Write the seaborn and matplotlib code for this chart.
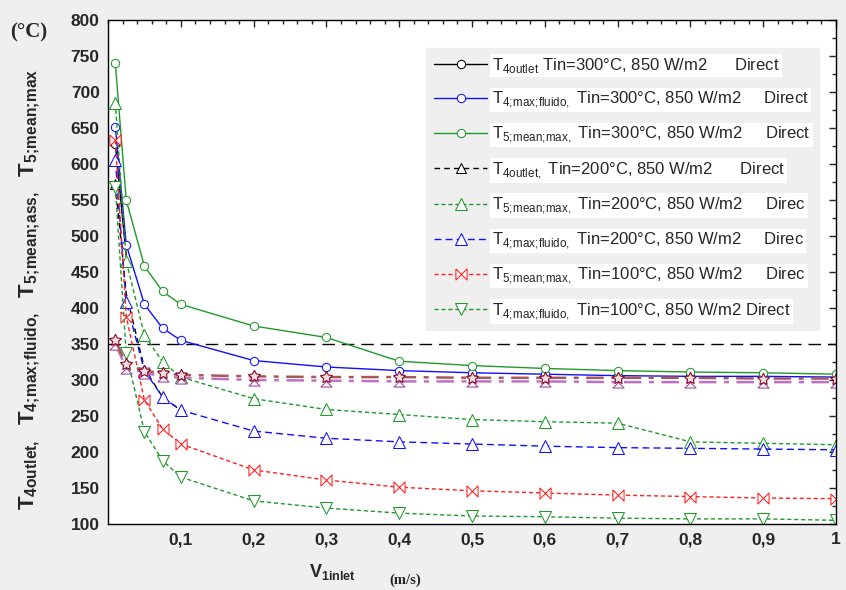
"""Outlet / fluid / surface temperatures versus inlet velocity."""

import matplotlib

matplotlib.use("Agg")

import matplotlib.pyplot as plt  # noqa: E402
import seaborn as sns  # noqa: E402

# inlet velocity (m/s)
V_INLET = [0.01, 0.025, 0.05, 0.075, 0.1, 0.2, 0.3, 0.4, 0.5, 0.6, 0.7, 0.8, 0.9, 1.0]

# Tin = 300 C
T5_MEAN_MAX_300 = [740, 550, 458, 423, 405, 375, 359, 326, 320, 316, 313, 311, 310, 308]
T4_MAX_FLUIDO_300 = [652, 488, 405, 372, 355, 327, 318, 313, 310, 308, 306, 305, 305, 304]
T4_OUTLET_300_V = [0.01, 0.025]
T4_OUTLET_300 = [628, 472]

# Tin = 200 C
T5_MEAN_MAX_200 = [685, 465, 362, 325, 304, 274, 259, 252, 245, 242, 240, 214, 212, 210]
T4_MAX_FLUIDO_200 = [606, 408, 313, 276, 258, 229, 219, 214, 211, 208, 206, 205, 204, 203]
T4_OUTLET_200_V = [0.01, 0.025, 0.05, 0.075, 0.1]
T4_OUTLET_200 = [572, 420, 316, 276, 258]

# Tin = 100 C
T5_MEAN_MAX_100 = [633, 388, 272, 232, 211, 175, 161, 151, 146, 143, 140, 138, 136, 135]
T4_MAX_FLUIDO_100 = [568, 337, 228, 188, 165, 132, 122, 115, 111, 110, 108, 107, 107, 105]

# unlabelled dash-dot series
SERIES_STAR = [355, 322, 313, 309, 307, 305, 304, 304, 303, 303, 303, 303, 302, 302]
SERIES_HOURGLASS = [350, 317, 310, 305, 303, 300, 299, 298, 298, 298, 297, 297, 297, 297]

REF_TEMP = 350

X_TICKS = [0.1, 0.2, 0.3, 0.4, 0.5, 0.6, 0.7, 0.8, 0.9, 1.0]
X_TICK_LABELS = ["0,1", "0,2", "0,3", "0,4", "0,5", "0,6", "0,7", "0,8", "0,9", "1"]
Y_TICKS = list(range(100, 801, 50))

LEGEND_LABELS = [
    r"$\mathrm{T}_{\mathrm{4outlet}}$ Tin=300°C, 850 W/m2      Direct",
    r"$\mathrm{T}_{\mathrm{4;\!max;\!fluido,}}$ Tin=300°C, 850 W/m2     Direct",
    r"$\mathrm{T}_{\mathrm{5;\!mean;\!max,}}$ Tin=300°C, 850 W/m2     Direct",
    r"$\mathrm{T}_{\mathrm{4outlet,}}$ Tin=200°C, 850 W/m2      Direct",
    r"$\mathrm{T}_{\mathrm{5;\!mean;\!max,}}$ Tin=200°C, 850 W/m2     Direc",
    r"$\mathrm{T}_{\mathrm{4;\!max;\!fluido,}}$ Tin=200°C, 850 W/m2     Direc",
    r"$\mathrm{T}_{\mathrm{5;\!mean;\!max,}}$ Tin=100°C, 850 W/m2     Direc",
    r"$\mathrm{T}_{\mathrm{4;\!max;\!fluido,}}$ Tin=100°C, 850 W/m2 Direct",
]

sns.set_theme(style="white")
plt.rcParams["font.family"] = ["Liberation Sans"]
plt.rcParams["mathtext.fontset"] = "custom"
plt.rcParams["mathtext.rm"] = "Liberation Sans"
plt.rcParams["mathtext.bf"] = "Liberation Sans:bold"

BOWTIE = [(-1, 1), (-1, -1), (1, 1), (1, -1), (-1, 1)]
HOURGLASS = [(-1, 1), (1, 1), (-1, -1), (1, -1), (-1, 1)]

GREEN = "#1f9a2a"
BLUE = "#1010ff"
RED = "#ff2020"
DASHED = (0, (3, 2))
DASH_DOT = (0, (7, 3, 2, 3))


def _line(ax, x, y, color, marker, size, mec=None, mfc="white", lw=1.0, **kw):
    sns.lineplot(x=x, y=y, ax=ax, sort=False, estimator=None, color=color,
                 marker=marker, markersize=size, markeredgecolor=mec or color,
                 markerfacecolor=mfc, linewidth=lw, **kw)
    return ax.lines[-1]


fig = plt.figure(figsize=(8.46, 5.90), dpi=100, facecolor="#efefef")
ax = fig.add_axes([0.1277, 0.112, 0.8605, 0.854])
ax.set_facecolor("white")

ax.axhline(REF_TEMP, color="black", linestyle=(0, (9, 5)), linewidth=1.0, zorder=1)

# black outlet curves sit underneath the coloured ones
h_out300 = _line(ax, T4_OUTLET_300_V, T4_OUTLET_300, "black", "o", 6, markevery=[0])
h_out200 = _line(ax, T4_OUTLET_200_V, T4_OUTLET_200, "black", "^", 7,
                 linestyle=(0, (4, 3)), markevery=[0])

h_fl300 = _line(ax, V_INLET, T4_MAX_FLUIDO_300, BLUE, "o", 6)
h_mm300 = _line(ax, V_INLET, T5_MEAN_MAX_300, GREEN, "o", 6)
h_mm200 = _line(ax, V_INLET, T5_MEAN_MAX_200, GREEN, "^", 8, linestyle=DASHED)
h_fl200 = _line(ax, V_INLET, T4_MAX_FLUIDO_200, BLUE, "^", 8, linestyle=(0, (5, 3)))
h_mm100 = _line(ax, V_INLET, T5_MEAN_MAX_100, RED, BOWTIE, 8, linestyle=DASHED)
h_fl100 = _line(ax, V_INLET, T4_MAX_FLUIDO_100, GREEN, "v", 8, linestyle=DASHED)

_line(ax, V_INLET, SERIES_HOURGLASS, "#c070c0", HOURGLASS, 8, mec="#a040a0", lw=1.8,
      linestyle=DASH_DOT)
_line(ax, V_INLET, SERIES_STAR, "#a85858", (5, 1, 0), 9, mec="#800020", mfc="#f4dcdc",
      lw=1.8, linestyle=DASH_DOT)

ax.set_xlim(0, 1)
ax.set_ylim(100, 800)
ax.set_xticks(X_TICKS)
ax.set_xticklabels(X_TICK_LABELS)
ax.set_yticks(Y_TICKS)
ax.set_xticks([i * 0.02 for i in range(51)], minor=True)
ax.set_yticks(list(range(100, 801, 25)), minor=True)
ax.tick_params(axis="both", which="both", direction="in", top=True, right=True,
               labelsize=12.5, pad=6)
ax.tick_params(which="major", length=5, width=1)
ax.tick_params(which="minor", length=3, width=1)
for lab in ax.get_xticklabels() + ax.get_yticklabels():
    lab.set_fontweight("bold")
for spine in ax.spines.values():
    spine.set_color("black")
    spine.set_linewidth(1.0)
ax.grid(False)
ax.set_xlabel("")
ax.set_ylabel("")

handles = [h_out300, h_fl300, h_mm300, h_out200, h_mm200, h_fl200, h_mm100, h_fl100]
leg = ax.legend(handles, LEGEND_LABELS, loc="upper right", bbox_to_anchor=(0.988, 0.962),
                fontsize=12, frameon=True, facecolor="#efefef", edgecolor="#efefef",
                framealpha=1, fancybox=False, handlelength=3.2, labelspacing=0.88,
                borderpad=0.5, handletextpad=0.3)
for txt in leg.get_texts():
    txt.set_bbox(dict(facecolor="white", edgecolor="none", pad=1.5))

fig.text(0.035, 0.51,
         r"$\mathbf{T}_{\mathbf{4outlet,}}$  $\mathbf{T}_{\mathbf{4;\!max;\!fluido,}}$  "
         r"$\mathbf{T}_{\mathbf{5;\!mean;\!ass,}}$  $\mathbf{T}_{\mathbf{5;\!mean;\!max}}$",
         rotation=90, ha="center", va="center", fontsize=16)
fig.text(0.012, 0.945, "(°C)", fontsize=15, fontweight="bold",
         family="Liberation Serif", ha="left", va="center")
fig.text(0.365, 0.03, r"$\mathbf{V}_{\mathbf{1inlet}}$", fontsize=13, ha="left",
         va="center")
fig.text(0.46, 0.016, "(m/s)", fontsize=10.5, fontweight="bold",
         family="Liberation Serif", ha="left", va="center")

fig.savefig("out.png", dpi=100, facecolor=fig.get_facecolor())
